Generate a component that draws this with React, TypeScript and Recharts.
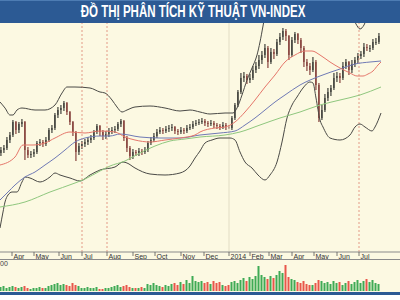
import React from "react";
import { Bar, Cell, ComposedChart, Line, ReferenceLine, XAxis, YAxis } from "recharts";

const TITLE = "ĐỒ THỊ PHÂN TÍCH KỸ THUẬT VN-INDEX";

// trading-day index (from mid March 2013) of each month start
const monthTicks = [12, 34, 59, 82, 107, 133, 155, 181, 204, 229, 250, 269, 292, 314, 337, 359];
const monthLabels = ["Apr", "May", "Jun", "Jul", "Aug", "Sep", "Oct", "Nov", "Dec", "2014", "Feb", "Mar", "Apr", "May", "Jun", "Jul"];
const markerDays = [82, 107, 359];
const yearStart = 229;

// one candle per 3 sessions
const firstDay = 1;
const dayStep = 3;

const opens = [
  480, 483, 485, 493, 498, 511, 503, 509, 511, 483,
  478, 479, 481, 490, 491, 489, 493, 503, 505, 518,
  523, 525, 530, 521, 511, 501, 481, 487, 489, 491,
  493, 495, 501, 507, 501, 497, 499, 502, 503, 504,
  509, 512, 495, 485, 477, 481, 480, 482, 481, 483,
  490, 493, 497, 501, 503, 502, 504, 505, 506, 502,
  501, 503, 502, 505, 506, 509, 510, 511, 512, 510,
  509, 510, 508, 507, 506, 508, 506, 505, 515, 528,
  541, 555, 557, 553, 555, 563, 567, 573, 578, 585,
  571, 581, 579, 591, 596, 602, 597, 578, 593, 599,
  593, 585, 571, 567, 563, 571, 548, 515, 523, 535,
  541, 545, 555, 557, 555, 567, 571, 563, 569, 573,
  577, 579, 586, 585, 585, 591, 591,
];
const highs = [
  486, 488, 496, 501, 513, 512, 511, 514, 512, 486,
  482, 484, 492, 494, 493, 496, 505, 508, 520, 526,
  528, 532, 531, 522, 512, 502, 490, 492, 494, 496,
  498, 503, 509, 508, 503, 502, 505, 506, 507, 511,
  514, 513, 497, 487, 484, 483, 485, 484, 486, 492,
  496, 500, 504, 506, 505, 507, 508, 509, 507, 504,
  506, 505, 508, 509, 512, 513, 514, 515, 514, 512,
  513, 512, 510, 509, 511, 510, 508, 517, 530, 543,
  560, 561, 559, 559, 567, 571, 578, 582, 589, 587,
  585, 584, 594, 600, 605, 604, 598, 596, 601, 600,
  595, 587, 574, 570, 576, 573, 550, 528, 539, 545,
  548, 560, 561, 560, 571, 574, 572, 573, 576, 580,
  582, 590, 589, 588, 594, 595, 600,
];
const lows = [
  477, 480, 483, 490, 496, 499, 500, 506, 473, 475,
  475, 476, 479, 487, 486, 487, 491, 500, 503, 515,
  519, 522, 518, 508, 497, 472, 478, 484, 486, 488,
  490, 493, 499, 497, 493, 494, 496, 499, 500, 502,
  506, 492, 481, 473, 474, 477, 477, 478, 479, 481,
  488, 491, 495, 499, 499, 500, 501, 502, 499, 498,
  499, 499, 500, 503, 504, 507, 508, 509, 507, 506,
  507, 505, 504, 503, 504, 503, 504, 503, 513, 526,
  539, 551, 549, 550, 553, 560, 564, 569, 575, 565,
  569, 574, 577, 588, 593, 592, 573, 576, 590, 589,
  580, 566, 562, 558, 561, 543, 511, 513, 521, 532,
  537, 543, 551, 550, 553, 564, 558, 560, 566, 570,
  574, 576, 582, 581, 583, 588, 589,
];
const closes = [
  483, 485, 493, 498, 511, 503, 509, 511, 483, 478,
  479, 481, 490, 491, 489, 493, 503, 505, 518, 523,
  525, 530, 521, 511, 501, 481, 487, 489, 491, 493,
  495, 501, 507, 501, 497, 499, 502, 503, 504, 509,
  512, 495, 485, 477, 481, 480, 482, 481, 483, 490,
  493, 497, 501, 503, 502, 504, 505, 506, 502, 501,
  503, 502, 505, 506, 509, 510, 511, 512, 510, 509,
  510, 508, 507, 506, 508, 506, 505, 515, 528, 541,
  555, 557, 553, 555, 563, 567, 573, 578, 585, 571,
  581, 579, 591, 596, 602, 597, 578, 593, 599, 593,
  585, 571, 567, 563, 571, 548, 515, 523, 535, 541,
  545, 555, 557, 555, 567, 571, 563, 569, 573, 577,
  579, 586, 585, 585, 591, 591, 597,
];
// million shares
const volumes = [
  40, 50, 30, 40, 50, 40, 30, 40, 50, 30,
  20, 30, 30, 40, 30, 30, 50, 60, 70, 80,
  60, 70, 60, 50, 80, 60, 50, 30, 30, 40,
  30, 30, 40, 20, 20, 30, 30, 40, 50, 60,
  40, 50, 60, 40, 30, 30, 30, 40, 30, 70,
  60, 80, 60, 50, 40, 60, 50, 70, 80, 60,
  90, 70, 110, 80, 150, 100, 90, 100, 80, 90,
  70, 100, 80, 90, 60, 50, 60, 90, 100, 80,
  110, 130, 100, 140, 120, 150, 250, 160, 140, 120,
  150, 130, 160, 200, 180, 260, 140, 120, 110, 90,
  80, 100, 70, 60, 60, 80, 110, 100, 80, 90,
  70, 100, 80, 90, 60, 80, 100, 70, 90, 110,
  80, 100, 120, 90, 110, 80, 70,
];

// [day, value]
const maShort: [number, number][] = [
  [0, 468], [15, 476], [23, 488], [33, 488], [45, 490], [55, 495], [70, 501], [85, 500],
  [100, 502], [115, 501], [125, 496], [135, 493], [150, 491], [165, 493], [180, 495],
  [195, 498], [200, 501], [215, 505], [225, 506], [235, 511], [245, 521], [255, 533],
  [265, 546], [275, 558], [285, 571], [295, 578], [305, 582], [312, 582], [320, 578],
  [330, 571], [340, 565], [350, 560], [357, 557], [363, 557], [368, 559], [373, 562],
  [378, 568], [381, 571],
];
const maMid: [number, number][] = [
  [0, 433], [8, 441], [15, 448], [25, 456], [35, 461], [45, 468], [55, 475], [65, 483],
  [75, 491], [85, 495], [100, 497], [110, 497], [120, 499], [140, 496], [160, 495],
  [180, 495], [200, 498], [220, 500], [235, 502], [245, 508], [255, 515], [265, 523],
  [275, 531], [285, 538], [300, 548], [320, 557], [340, 564], [355, 569], [370, 571],
  [381, 572],
];
const maLong: [number, number][] = [
  [0, 426], [25, 431], [50, 441], [75, 450], [85, 454], [100, 462], [110, 467], [125, 472],
  [140, 480], [155, 487], [170, 492], [185, 494], [200, 496], [225, 498], [240, 501],
  [260, 508], [280, 515], [300, 521], [320, 528], [340, 533], [360, 538], [381, 546],
];
const bandUpper: [number, number][] = [
  [0, 531], [5, 525], [10, 518], [13, 518], [17, 523], [22, 525], [35, 523], [45, 523],
  [55, 528], [62, 540], [67, 546], [75, 546], [90, 545], [100, 541], [105, 540], [112, 533],
  [117, 526], [122, 521], [127, 523], [135, 526], [150, 527], [165, 525], [180, 522],
  [190, 523], [200, 521], [210, 519], [225, 520], [233, 520], [237, 525], [242, 538],
  [247, 553], [252, 565], [257, 578], [260, 591], [263, 607], [266, 623], [272, 643],
  [285, 653], [300, 663], [320, 658], [340, 638], [352, 618], [356, 609], [360, 604],
  [364, 608], [368, 618], [375, 628], [381, 633],
];
const bandLower: [number, number][] = [
  [0, 405], [3, 421], [5, 431], [8, 438], [12, 441], [17, 441], [22, 451], [25, 456],
  [30, 455], [40, 451], [50, 456], [55, 460], [60, 458], [70, 455], [80, 452], [90, 458],
  [100, 463], [115, 466], [123, 471], [127, 470], [135, 465], [150, 459], [165, 458],
  [180, 460], [190, 467], [195, 475], [200, 482], [205, 490], [212, 493], [220, 495],
  [230, 495], [235, 493], [240, 481], [245, 471], [252, 465], [258, 458], [265, 453],
  [270, 458], [277, 471], [282, 491], [287, 515], [292, 528], [297, 536], [303, 545],
  [310, 551], [313, 550], [316, 535], [320, 513], [323, 506], [330, 495], [340, 493],
  [350, 498], [355, 506], [360, 509], [365, 506], [372, 502], [375, 506], [381, 520],
];

const candles = closes.map((close, i) => ({
  t: firstDay + i * dayStep,
  open: opens[i],
  high: highs[i],
  low: lows[i],
  close,
  volume: volumes[i],
}));

const toPoints = (arr: [number, number][]) => arr.map(([t, v]) => ({ t, v }));

const BG = "#fcf9e2";
const BLUE = "#2c5a94";

function Candle(props: any) {
  const { x, y, width, height, payload } = props;
  const { open, close, high, low } = payload;
  const range = high - low || 1;
  const py = (v: number) => y + ((high - v) / range) * height;
  const top = py(Math.max(open, close));
  const bottom = py(Math.min(open, close));
  const color = close >= open ? "#1b1d1a" : "#6e1c1a";
  const cx = x + width / 2;
  return (
    <g>
      <line x1={cx} x2={cx} y1={y} y2={y + height} stroke={color} strokeWidth={1} />
      <rect x={x} y={top} width={width} height={Math.max(1, bottom - top)} fill={color} />
    </g>
  );
}

function MonthTick(props: any) {
  const { x, y, payload } = props;
  const label = monthLabels[monthTicks.indexOf(payload.value)];
  return (
    <g>
      <line x1={x} x2={x} y1={y} y2={y + 4} stroke="#555" strokeWidth={0.8} />
      <text x={x + 1.5} y={y + 6.5} fontSize={7} fill="#333" fontFamily="Arial, 'Liberation Sans', sans-serif">
        {label}
      </text>
    </g>
  );
}

export default function App() {
  return (
    <div style={{ position: "fixed", left: 0, top: 0, width: 400, height: 300, background: "#fff", overflow: "hidden" }}>
      <div style={{ position: "absolute", left: 0, top: 23, width: 400, height: 269, background: BG }} />
      <div
        style={{
          position: "absolute",
          left: 0,
          top: 0,
          width: 400,
          height: 23,
          background: BLUE,
          borderTop: "1px solid #4d7cb3",
          boxSizing: "border-box",
          textAlign: "center",
        }}
      >
        <span
          style={{
            display: "inline-block",
            color: "#fff",
            fontFamily: "'Liberation Sans', Arial, sans-serif",
            fontWeight: 700,
            fontSize: 16,
            lineHeight: "21px",
            whiteSpace: "nowrap",
            transform: "translateX(-7px) scaleX(0.72)",
            transformOrigin: "center",
          }}
        >
          {TITLE}
        </span>
      </div>

      <div style={{ position: "absolute", left: 0, top: 23 }}>
        <ComposedChart width={400} height={237} data={candles} margin={{ top: 0, right: 0, bottom: 0, left: 0 }}>
          <XAxis
            type="number"
            dataKey="t"
            domain={[0, 400]}
            allowDataOverflow
            ticks={monthTicks}
            interval={0}
            height={8}
            tickSize={0}
            tickMargin={0}
            tickLine={false}
            axisLine={{ stroke: "#8a8a8a" }}
            tick={<MonthTick />}
          />
          <YAxis hide domain={[381, 610]} allowDataOverflow />
          <ReferenceLine x={yearStart} stroke="#e2ddc4" strokeWidth={1} />
          {markerDays.map((d) => (
            <ReferenceLine key={d} x={d} stroke="#e39a86" strokeDasharray="2 2" strokeWidth={1} />
          ))}
          <Line data={toPoints(bandUpper)} dataKey="v" type="monotone" stroke="#4a4a46" strokeWidth={1} dot={false} isAnimationActive={false} />
          <Line data={toPoints(bandLower)} dataKey="v" type="monotone" stroke="#4a4a46" strokeWidth={1} dot={false} isAnimationActive={false} />
          <Line data={toPoints(maLong)} dataKey="v" type="monotone" stroke="#8fc77e" strokeWidth={1} dot={false} isAnimationActive={false} />
          <Line data={toPoints(maMid)} dataKey="v" type="monotone" stroke="#6f79b5" strokeWidth={1} dot={false} isAnimationActive={false} />
          <Line data={toPoints(maShort)} dataKey="v" type="monotone" stroke="#e5766a" strokeWidth={1} dot={false} isAnimationActive={false} />
          <Bar dataKey={(d: any) => [d.low, d.high]} barSize={2} shape={<Candle />} isAnimationActive={false} />
        </ComposedChart>
      </div>

      <div style={{ position: "absolute", left: 0, top: 259, width: 400, height: 1, background: "#8a8a8a" }} />
      <span
        style={{
          position: "absolute",
          left: 0,
          top: 260,
          fontSize: 7,
          lineHeight: "8px",
          color: "#444",
          fontFamily: "Arial, 'Liberation Sans', sans-serif",
        }}
      >
        00
      </span>

      <div style={{ position: "absolute", left: 0, top: 260 }}>
        <ComposedChart width={400} height={31} data={candles} margin={{ top: 1, right: 0, bottom: 0, left: 0 }}>
          <XAxis type="number" dataKey="t" domain={[0, 400]} hide />
          <YAxis hide domain={[0, 300]} />
          <Bar dataKey="volume" barSize={2} isAnimationActive={false}>
            {candles.map((c) => (
              <Cell key={c.t} fill={c.close >= c.open ? "#3faa55" : "#e8564a"} />
            ))}
          </Bar>
        </ComposedChart>
      </div>

      <div style={{ position: "absolute", left: 0, top: 292, width: 400, height: 3, background: BLUE }} />
    </div>
  );
}
